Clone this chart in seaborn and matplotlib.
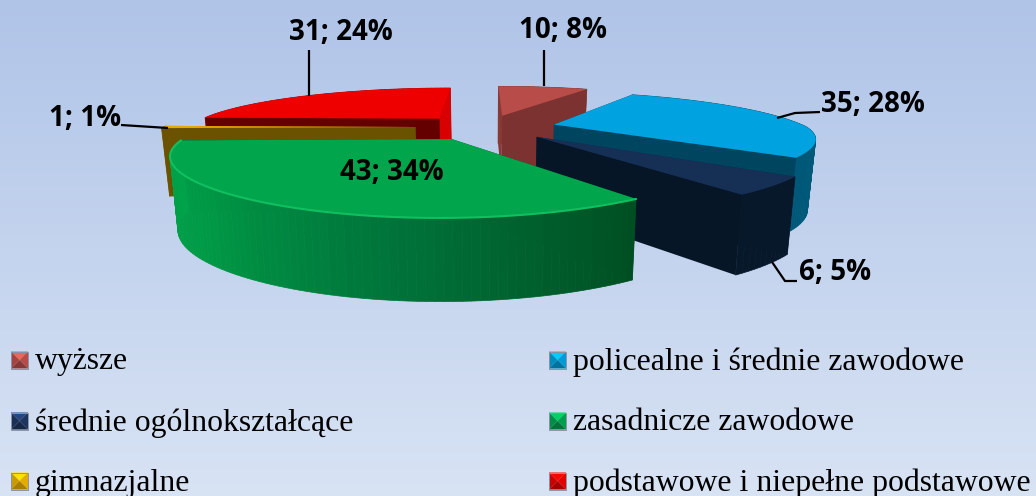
import numpy as np
import matplotlib
matplotlib.use("Agg")
import matplotlib.pyplot as plt
import seaborn as sns
from matplotlib.patches import Polygon

categories = ["wyższe", "policealne i średnie zawodowe", "średnie ogólnokształcące",
              "zasadnicze zawodowe", "gimnazjalne", "podstawowe i niepełne podstawowe"]
counts = [10, 35, 6, 43, 1, 31]
percents = [8, 28, 5, 34, 1, 24]

top_colors = ["#B84C48", "#00A3E0", "#152F55", "#00A54C", "#E8A800", "#EE0000"]
start_cut = ["#8A3A36", "#004560", "#14294A", "#004F22", "#6B5200", "#640000"]
end_cut = ["#7C3230", "#004560", "#071626", "#004F22", "#6B5200", "#D80000"]
side_ramps = [["#7C3230", "#7C3230"], ["#00607F", "#005878"], ["#08182B", "#08182B"],
              ["#004F22", "#00733A", "#009A46", "#00A34A"], ["#7A5E00", "#7A5E00"],
              ["#B00000", "#B00000"]]
swatch_colors = ["#C0504D", "#00A3E0", "#1F3864", "#00A651", "#F0B400", "#EE0000"]
draw_order = [0, 5, 4, 1, 2, 3]

label_pos = [(563, 30), (873, 104), (835, 272), (392, 172), (85, 118), (341, 32)]
leaders = [[(544, 50), (544, 86)], [(777, 118), (795, 113), (820, 112)],
           [(772, 262), (785, 281), (797, 281)], [], [(121, 125), (168, 128)],
           [(309, 50), (309, 96)]]
legend_rows = [360, 360, 421, 421, 481, 481]
legend_cols = [11, 549, 11, 549, 11, 549]

# pie geometry in pixels
CX, CY = 486, 127
RX, RY = 252, 44.6
KX_BACK, KX_FRONT, KY, KZ = 0.32, 0.25, 0.31, 0.15
HEIGHT = 68
EXPLODE = 0.28


def project(u, v, bottom=False):
    u, v = np.asarray(u, float), np.asarray(v, float)
    kx = np.where(v > 0, KX_BACK, KX_FRONT)
    x = CX + RX * u / (1 + kx * v)
    y = CY - RY * v / (1 + KY * v)
    if bottom:
        x = CX + (x - CX) * 0.975
        y = y + HEIGHT / (1 + KZ * v)
    return np.column_stack([x, y])


def area(p):
    x, y = p[:, 0], p[:, 1]
    return np.sum(x * np.roll(y, -1) - np.roll(x, -1) * y)


sns.set_theme(style="white")
plt.rcParams["font.family"] = ["Liberation Serif", "DejaVu Serif"]

fig = plt.figure(figsize=(10.36, 4.96), dpi=100)
ax = fig.add_axes([0, 0, 1, 1])
ax.set_xlim(0, 1036)
ax.set_ylim(496, 0)
ax.axis("off")

# background gradient
bg = np.array(sns.blend_palette(["#B0C4E8", "#D8E3F4"], 256))[:, None, :]
ax.imshow(bg, extent=[0, 1036, 496, 0], aspect="auto", zorder=0)

total = sum(counts)
edges = np.cumsum([0] + counts) / total * 2 * np.pi
z = 1
for i in draw_order:
    a0, a1 = edges[i], edges[i + 1]
    mid = (a0 + a1) / 2
    ou, ov = EXPLODE * np.sin(mid), EXPLODE * np.cos(mid)
    t = np.linspace(a0, a1, max(6, int((a1 - a0) * 40)))
    ru, rv = ou + np.sin(t), ov + np.cos(t)
    top_rim = project(ru, rv)
    bot_rim = project(ru, rv, bottom=True)
    apex_t = project([ou], [ov])
    apex_b = project([ou], [ov], bottom=True)

    cut0 = np.vstack([apex_t, top_rim[:1], bot_rim[:1], apex_b])
    cut1 = np.vstack([apex_t, top_rim[-1:], bot_rim[-1:], apex_b])
    show0, show1 = area(cut0) < 0, area(cut1) > 0

    # hidden cuts go first, then the outer wall, then the cuts facing us
    if not show0:
        ax.add_patch(Polygon(cut0, fc=start_cut[i], ec="none", zorder=z))
    if not show1:
        ax.add_patch(Polygon(cut1, fc=end_cut[i], ec="none", zorder=z))
    z += 1
    ramp = sns.blend_palette(side_ramps[i], len(t) - 1)
    for k in range(len(t) - 1):
        quad = np.vstack([top_rim[k:k + 2], bot_rim[k:k + 2][::-1]])
        ax.add_patch(Polygon(quad, fc=ramp[k], ec=ramp[k], lw=0.5, zorder=z))
    z += 1
    if show0:
        ax.add_patch(Polygon(cut0, fc=start_cut[i], ec="none", zorder=z))
    if show1:
        ax.add_patch(Polygon(cut1, fc=end_cut[i], ec="none", zorder=z))
    z += 1
    ax.add_patch(Polygon(np.vstack([apex_t, top_rim]), fc=top_colors[i], ec="none", zorder=z))
    if i == 3:
        ax.plot(top_rim[:, 0], top_rim[:, 1], color="#10C060", lw=1.5, zorder=z)
    z += 1

# data labels and leader lines
for i in range(len(counts)):
    if leaders[i]:
        pts = np.array(leaders[i])
        ax.plot(pts[:, 0], pts[:, 1], color="black", lw=1.6, zorder=z, solid_capstyle="butt")
    ax.text(label_pos[i][0], label_pos[i][1], f"{counts[i]}; {percents[i]}%", ha="center", va="center",
            fontsize=20, fontweight="bold", family=["Open Sans", "DejaVu Sans"], color="black", zorder=z + 1)

# legend with bevelled swatches
size = 17
for i, name in enumerate(categories):
    x, yc = legend_cols[i], legend_rows[i]
    y = yc - size / 2
    c = np.array(matplotlib.colors.to_rgb(swatch_colors[i]))
    corners = [(x, y), (x + size, y), (x + size, y + size), (x, y + size)]
    mid_pt = (x + size / 2, yc)
    shades = [np.clip(c * 1.25, 0, 1), c * 0.95, c * 0.7, c * 0.85]
    for k in range(4):
        ax.add_patch(Polygon([corners[k], corners[(k + 1) % 4], mid_pt], fc=shades[k], ec="none", zorder=z))
    ax.add_patch(Polygon(corners, fc="none", ec="#8A93A8", lw=0.7, zorder=z))
    ax.text(x + 24, yc + 2, name, ha="left", va="center", fontsize=22.9, color="black", zorder=z)

fig.savefig("out.png", dpi=100)
